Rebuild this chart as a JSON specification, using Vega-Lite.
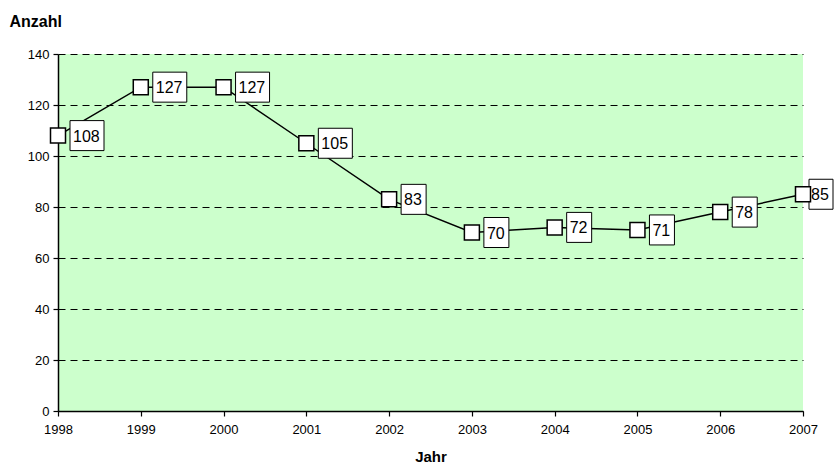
{
  "$schema": "https://vega.github.io/schema/vega-lite/v6.json",
  "width": 745,
  "height": 357,
  "autosize": "none",
  "padding": {"left": 58, "top": 54, "right": 31, "bottom": 55},
  "background": "white",
  "config": {
    "font": "Liberation Sans",
    "view": {"fill": "#CCFFCC", "stroke": null}
  },
  "data": {
    "values": [
      {"Jahr": 1998, "Anzahl": 108},
      {"Jahr": 1999, "Anzahl": 127},
      {"Jahr": 2000, "Anzahl": 127},
      {"Jahr": 2001, "Anzahl": 105},
      {"Jahr": 2002, "Anzahl": 83},
      {"Jahr": 2003, "Anzahl": 70},
      {"Jahr": 2004, "Anzahl": 72},
      {"Jahr": 2005, "Anzahl": 71},
      {"Jahr": 2006, "Anzahl": 78},
      {"Jahr": 2007, "Anzahl": 85}
    ]
  },
  "encoding": {
    "x": {
      "field": "Jahr", "type": "quantitative",
      "scale": {"domain": [1998, 2007], "nice": false, "zero": false},
      "axis": {
        "values": [1998, 1999, 2000, 2001, 2002, 2003, 2004, 2005, 2006, 2007],
        "format": "d", "grid": false, "domainColor": "black", "domainWidth": 1.5,
        "tickColor": "black", "tickSize": 5, "tickWidth": 1.2,
        "labelFontSize": 13, "labelColor": "black", "labelPadding": 7,
        "labelFlush": false, "labelFont": "Liberation Sans",
        "title": "Jahr", "titleFontSize": 15, "titleFontWeight": "bold",
        "titleColor": "black", "titlePadding": 13, "titleFont": "Liberation Sans"
      }
    },
    "y": {
      "field": "Anzahl", "type": "quantitative",
      "scale": {"domain": [0, 140], "nice": false},
      "axis": {
        "values": [0, 20, 40, 60, 80, 100, 120, 140],
        "grid": true, "gridColor": "black", "gridDash": [7, 5], "gridWidth": 1,
        "domainColor": "black", "domainWidth": 1.5,
        "tickColor": "black", "tickSize": 5, "tickWidth": 1.2,
        "labelFontSize": 13, "labelColor": "black", "labelPadding": 4,
        "labelFont": "Liberation Sans",
        "title": "Anzahl", "titleAngle": 0, "titleAlign": "left",
        "titleBaseline": "middle", "titleX": -49, "titleY": -33,
        "titleFontSize": 16, "titleFontWeight": "bold", "titleColor": "black",
        "titleFont": "Liberation Sans"
      }
    }
  },
  "layer": [
    {"mark": {"type": "line", "color": "black", "strokeWidth": 1.5}},
    {
      "transform": [{"filter": "datum.Anzahl >= 100"}],
      "mark": {"type": "rect", "fill": "white", "stroke": "black", "strokeWidth": 1,
               "xOffset": 12, "x2Offset": 46, "yOffset": -15, "y2Offset": 15},
      "encoding": {"x2": {"field": "Jahr"}, "y2": {"field": "Anzahl"}}
    },
    {
      "transform": [{"filter": "datum.Anzahl < 100 && datum.Jahr < 2007"}],
      "mark": {"type": "rect", "fill": "white", "stroke": "black", "strokeWidth": 1,
               "xOffset": 12, "x2Offset": 37, "yOffset": -15, "y2Offset": 15},
      "encoding": {"x2": {"field": "Jahr"}, "y2": {"field": "Anzahl"}}
    },
    {
      "transform": [{"filter": "datum.Jahr == 2007"}],
      "mark": {"type": "rect", "fill": "white", "stroke": "black", "strokeWidth": 1,
               "xOffset": 6, "x2Offset": 30, "yOffset": -15, "y2Offset": 15},
      "encoding": {"x2": {"field": "Jahr"}, "y2": {"field": "Anzahl"}}
    },
    {
      "mark": {"type": "point", "shape": "square", "filled": true, "fill": "white",
               "stroke": "black", "strokeWidth": 1.5, "size": 225, "opacity": 1}
    },
    {
      "transform": [{"filter": "datum.Jahr < 2007"}],
      "mark": {"type": "text", "align": "left", "baseline": "middle", "dx": 15, "dy": 1,
               "fontSize": 16, "color": "black", "font": "Liberation Sans"},
      "encoding": {"text": {"field": "Anzahl", "type": "quantitative"}}
    },
    {
      "transform": [{"filter": "datum.Jahr == 2007"}],
      "mark": {"type": "text", "align": "left", "baseline": "middle", "dx": 8, "dy": 1,
               "fontSize": 16, "color": "black", "font": "Liberation Sans"},
      "encoding": {"text": {"field": "Anzahl", "type": "quantitative"}}
    }
  ]
}
